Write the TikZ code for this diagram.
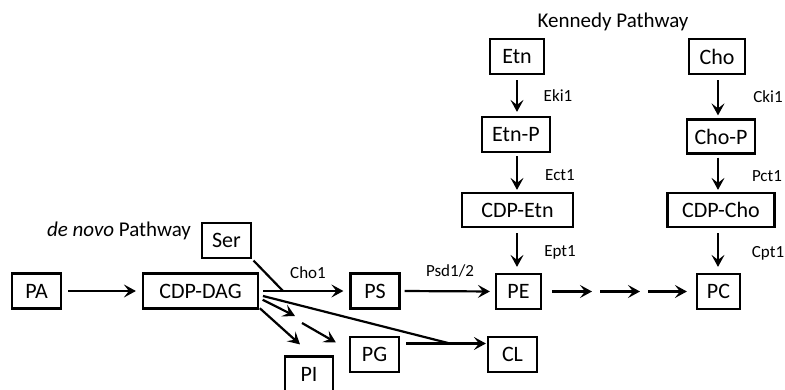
\documentclass[tikz,border=0pt]{standalone}
\usepackage{fontspec}
\setmainfont{Carlito}
\usetikzlibrary{arrows.meta}
\begin{document}
\begin{tikzpicture}[x=1pt,y=-1pt,
 box/.style={draw, line width=2.2pt, minimum height=35pt, inner sep=0pt, font=\fontsize{22}{26}\selectfont},
 lab/.style={font=\fontsize{17}{20}\selectfont},
 ttl/.style={font=\fontsize{21}{25}\selectfont},
 arr/.style={line width=2.2pt, -{Stealth[length=12pt,width=13pt,inset=5pt]}},
 ln/.style={line width=2.2pt}]
\useasboundingbox[fill=white] (0,0) rectangle (785,390);
% nodes
\node[box, minimum width=49pt] (PA) at (36.5,291) {PA};
\node[box, minimum width=115pt] (CDP) at (200.5,291) {CDP-DAG};
\node[box, minimum width=49pt] (Ser) at (226.5,240.5) {Ser};
\node[box, minimum width=49pt] (PS) at (375,291) {PS};
\node[box, minimum width=45pt] (PE) at (518.5,291.5) {PE};
\node[box, minimum width=43pt] (PC) at (718.5,291.5) {PC};
\node[box, minimum width=111pt, minimum height=34pt] (CDPEtn) at (517.5,210) {CDP-Etn};
\node[box, minimum width=107pt, minimum height=34pt] (CDPCho) at (721,210) {CDP-Cho};
\node[box, minimum width=54pt] (Etn) at (517,56.5) {Etn};
\node[box, minimum width=68pt] (EtnP) at (516,134.5) {Etn-P};
\node[box, minimum width=56pt] (Cho) at (717,56.5) {Cho};
\node[box, minimum width=68pt, minimum height=34pt] (ChoP) at (721,136.5) {Cho-P};
\node[box, minimum width=49pt] (PG) at (374.5,354.5) {PG};
\node[box, minimum width=49pt] (CL) at (512.5,354.5) {CL};
\node[box, minimum width=48pt] (PI) at (309,374) {PI};
% titles
\node[ttl] (kt) at (613,22) {Kennedy Pathway};
\node[ttl] (dn) at (119,231) {\textit{de novo} Pathway};
% enzyme labels
\node[lab] (eki) at (558,96) {Eki1};
\node[lab] (ect) at (560,175) {Ect1};
\node[lab] (ept) at (560,252) {Ept1};
\node[lab] (cki) at (768,97) {Cki1};
\node[lab] (pct) at (767,176) {Pct1};
\node[lab] (cpt) at (768,253) {Cpt1};
\node[lab] (cho1) at (308,273) {Cho1};
\node[lab] (psd) at (450,271) {Psd1/2};
% helper coordinates
\coordinate (j1) at (283,291);
\coordinate (j2) at (448,343);
\coordinate (m1) at (596,291.5);
\coordinate (m2) at (644,291.5);
% Kennedy arrows
\draw[arr, shorten <=5pt, shorten >=4pt] (Etn.south) -- (Etn.south |- EtnP.north);
\draw[arr, shorten <=3pt, shorten >=2pt] (EtnP.south -| Etn.south) -- (Etn.south |- CDPEtn.north);
\draw[arr, shorten <=5pt, shorten >=6pt] (CDPEtn.south -| Etn.south) -- (Etn.south |- PE.north);
\draw[arr, shorten <=5pt, shorten >=3pt] (Cho.south -| 718,0) -- (ChoP.north -| 718,0);
\draw[arr, shorten <=3pt, shorten >=2pt] (ChoP.south -| 718,0) -- (CDPCho.north -| 718,0);
\draw[arr, shorten <=5pt, shorten >=6pt] (CDPCho.south -| 718,0) -- (PC.north -| 718,0);
% main line
\draw[arr, shorten <=6pt, shorten >=6pt] (PA.east) -- (CDP.west);
\draw[arr, shorten <=4pt, shorten >=6pt] (CDP.east) -- (PS.west);
\draw[ln, shorten <=2pt] (Ser.south east) -- (j1);
\draw[arr, shorten <=4pt, shorten >=5pt] (PS.east) -- (PE.west);
\draw[arr, shorten <=10pt, shorten >=4pt] (PE.east) -- (m1);
\draw[arr, shorten <=4pt, shorten >=4pt] (m1) -- (m2);
\draw[arr, shorten <=4pt, shorten >=9pt] (m2) -- (PC.west);
% branches
\draw[ln, shorten <=4pt] ([yshift=-4pt]CDP.east) -- (j2);
\draw[arr, shorten <=6pt, shorten >=1pt] ([yshift=11pt]PG.east) -- ([yshift=11pt]CL.west);
\draw[arr, shorten <=1pt] ([yshift=2pt]CDP.south east) -- ([xshift=-9pt,yshift=11pt]PI.north);
\coordinate (g1) at (295,316);
\coordinate (g2) at (302,323);
\draw[arr, shorten <=4pt] ([yshift=-7pt]CDP.east) -- (g1);
\draw[arr] (g2) -- ([xshift=-13pt,yshift=12pt]PG.west);
\end{tikzpicture}
\end{document}
